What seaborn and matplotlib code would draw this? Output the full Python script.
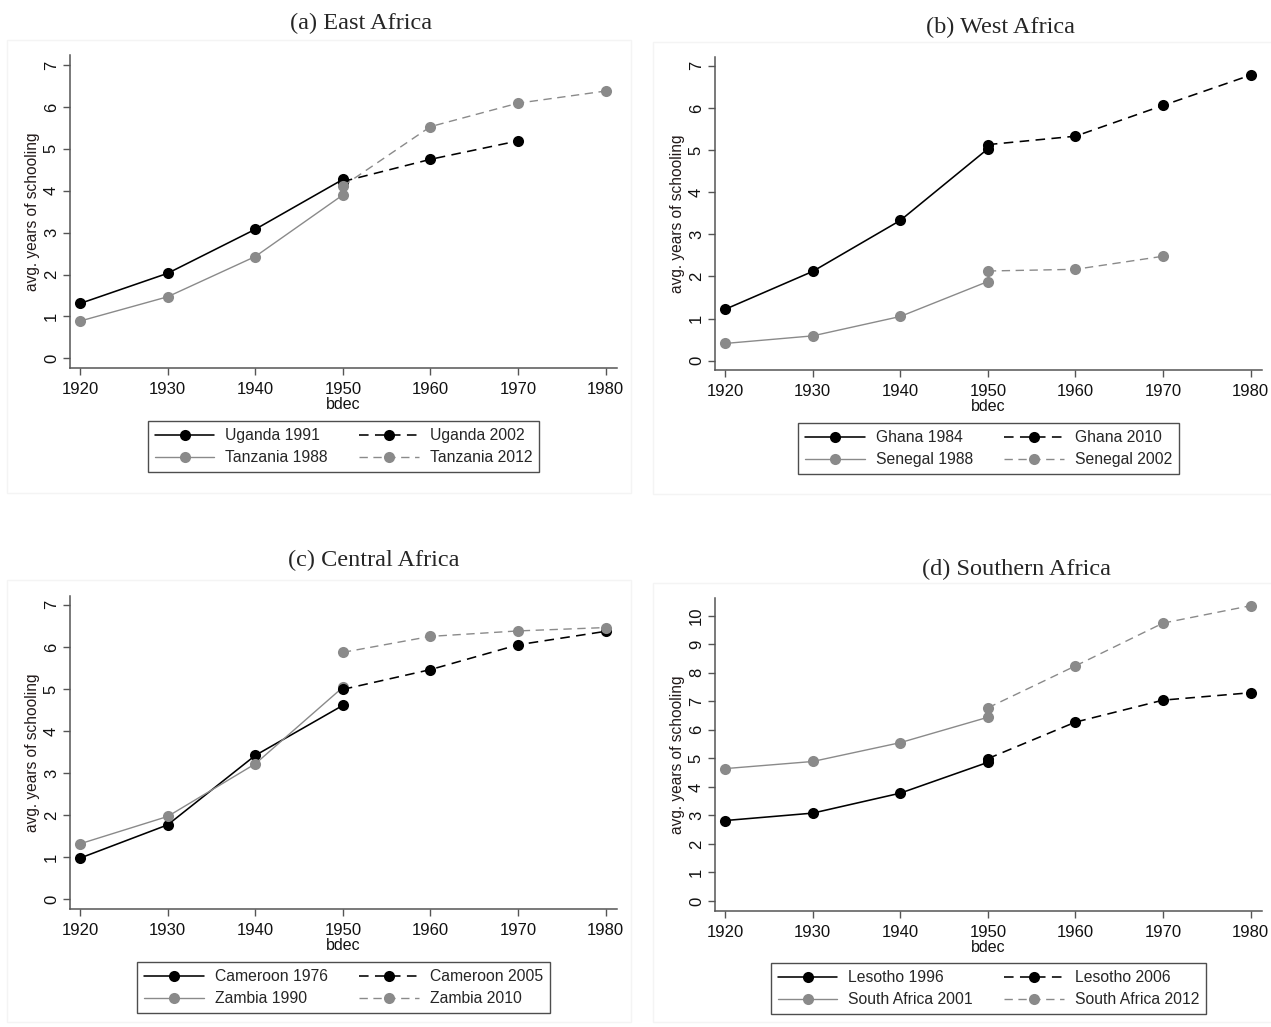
import matplotlib
matplotlib.use("Agg")
import matplotlib.pyplot as plt
from matplotlib.lines import Line2D
from matplotlib.patches import Rectangle
import pandas as pd
import seaborn as sns

sns.set_theme(style="white")
plt.rcParams['font.family'] = ['Liberation Sans', 'DejaVu Sans']

# Birth decades
early_decades = [1920, 1930, 1940, 1950]
late_decades = [1950, 1960, 1970, 1980]
late_decades_short = [1950, 1960, 1970]

# (a) East Africa
uganda_1991 = [1.31, 2.03, 3.08, 4.27]
uganda_2002 = [4.22, 4.75, 5.19]
tanzania_1988 = [0.89, 1.47, 2.43, 3.90]
tanzania_2012 = [4.11, 5.53, 6.09, 6.38]

# (b) West Africa
ghana_1984 = [1.22, 2.12, 3.33, 5.03]
ghana_2010 = [5.13, 5.33, 6.06, 6.78]
senegal_1988 = [0.41, 0.59, 1.05, 1.88]
senegal_2002 = [2.13, 2.17, 2.48]

# (c) Central Africa
cameroon_1976 = [0.98, 1.77, 3.42, 4.61]
cameroon_2005 = [4.99, 5.46, 6.05, 6.37]
zambia_1990 = [1.32, 1.97, 3.22, 5.04]
zambia_2010 = [5.87, 6.25, 6.38, 6.46]

# (d) Southern Africa
lesotho_1996 = [2.82, 3.08, 3.78, 4.86]
lesotho_2006 = [4.99, 6.27, 7.04, 7.30]
south_africa_2001 = [4.64, 4.89, 5.55, 6.44]
south_africa_2012 = [6.77, 8.24, 9.74, 10.35]

panel_titles = ["(a) East Africa", "(b) West Africa",
                "(c) Central Africa", "(d) Southern Africa"]
y_ticks = [list(range(0, 8)), list(range(0, 8)),
           list(range(0, 8)), list(range(0, 11))]
x_ticks = [1920, 1930, 1940, 1950, 1960, 1970, 1980]

BLACK = "#000000"
GREY = "#8a8a8a"
DASH = (0, (6, 4))

panels = [
    [("Uganda 1991", early_decades, uganda_1991, BLACK, "-"),
     ("Tanzania 1988", early_decades, tanzania_1988, GREY, "-"),
     ("Uganda 2002", late_decades_short, uganda_2002, BLACK, DASH),
     ("Tanzania 2012", late_decades, tanzania_2012, GREY, DASH)],
    [("Ghana 1984", early_decades, ghana_1984, BLACK, "-"),
     ("Senegal 1988", early_decades, senegal_1988, GREY, "-"),
     ("Ghana 2010", late_decades, ghana_2010, BLACK, DASH),
     ("Senegal 2002", late_decades_short, senegal_2002, GREY, DASH)],
    [("Cameroon 1976", early_decades, cameroon_1976, BLACK, "-"),
     ("Zambia 1990", early_decades, zambia_1990, GREY, "-"),
     ("Cameroon 2005", late_decades, cameroon_2005, BLACK, DASH),
     ("Zambia 2010", late_decades, zambia_2010, GREY, DASH)],
    [("Lesotho 1996", early_decades, lesotho_1996, BLACK, "-"),
     ("South Africa 2001", early_decades, south_africa_2001, GREY, "-"),
     ("Lesotho 2006", late_decades, lesotho_2006, BLACK, DASH),
     ("South Africa 2012", late_decades, south_africa_2012, GREY, DASH)],
]

W, H = 1271, 1027
fig = plt.figure(figsize=(W / 100, H / 100), dpi=100)

# axes boxes in pixels: left, right, top, bottom
boxes = [(70, 617, 55, 368), (715, 1262, 57, 370),
         (70, 617, 596, 909), (715, 1262, 598, 911)]
ylims = [(-0.23, 7.24), (-0.22, 7.21), (-0.23, 7.21), (-0.35, 10.62)]
title_pos = [(361, 23), (1001, 27), (374, 560), (1017, 569)]
frames = [(7, 631, 40, 493), (653, 1275, 42, 494),
          (7, 631, 580, 1022), (653, 1275, 583, 1022)]
legend_tops = [421, 423, 962, 963]

AXC = "#555555"

for (fx0, fx1, fy0, fy1) in frames:
    fig.add_artist(Rectangle((fx0 / W, 1 - fy1 / H), (fx1 - fx0) / W, (fy1 - fy0) / H,
                             transform=fig.transFigure, fill=False,
                             edgecolor="#f4f4f4", lw=1.0))

for i, series in enumerate(panels):
    l, r, t, b = boxes[i]
    ax = fig.add_axes([l / W, 1 - b / H, (r - l) / W, (b - t) / H])
    handles = []
    for label, dec, vals, col, ls in series:
        df = pd.DataFrame({"bdec": dec, "yrs": vals})
        lw = 1.15 if col == BLACK else 1.0
        sns.lineplot(data=df, x="bdec", y="yrs", ax=ax, color=col, linewidth=lw,
                     linestyle=ls, marker="o", markersize=8,
                     markeredgewidth=0, markeredgecolor=col, sort=False)
        handles.append(Line2D([], [], color=col, lw=lw, linestyle=ls, marker="o",
                              markersize=8, markeredgewidth=0, label=label))
    ax.set_xlim(1918.85, 1981.3)
    ax.set_ylim(*ylims[i])
    ax.set_xticks(x_ticks)
    ax.set_yticks(y_ticks[i])
    for s in ["top", "right"]:
        ax.spines[s].set_visible(False)
    for s in ["left", "bottom"]:
        ax.spines[s].set_color(AXC)
        ax.spines[s].set_linewidth(1.1)
    ax.tick_params(axis="both", direction="out", length=5, width=1.0, color=AXC,
                   labelsize=12, labelcolor="#111111", left=True, bottom=True)
    ax.tick_params(axis="x", pad=5)
    ax.tick_params(axis="y", pad=3)
    for lab in ax.get_yticklabels():
        lab.set_rotation(90)
        lab.set_va("center")
    ax.set_xlabel("bdec", fontsize=11.5, color="#111111", labelpad=0)
    ax.set_ylabel("avg. years of schooling", fontsize=11.2, color="#221a1a", labelpad=3)
    ax.grid(False)

    leg_top = (b - legend_tops[i]) / (b - t)
    leg = ax.legend(handles=handles, ncol=2, loc="upper center",
                    bbox_to_anchor=(0.5, leg_top), frameon=True, fancybox=False,
                    edgecolor="#222222", fontsize=11.3, handlelength=3.8,
                    handletextpad=0.7, columnspacing=2.0, borderpad=0.45,
                    labelspacing=0.45, borderaxespad=0)
    leg.get_frame().set_linewidth(1.0)

    tx, ty = title_pos[i]
    fig.text(tx / W, 1 - ty / H, panel_titles[i], ha="center", va="center",
             fontsize=17.5, family=["Liberation Serif", "DejaVu Serif"])

fig.savefig("out.png", dpi=100, facecolor="white")
